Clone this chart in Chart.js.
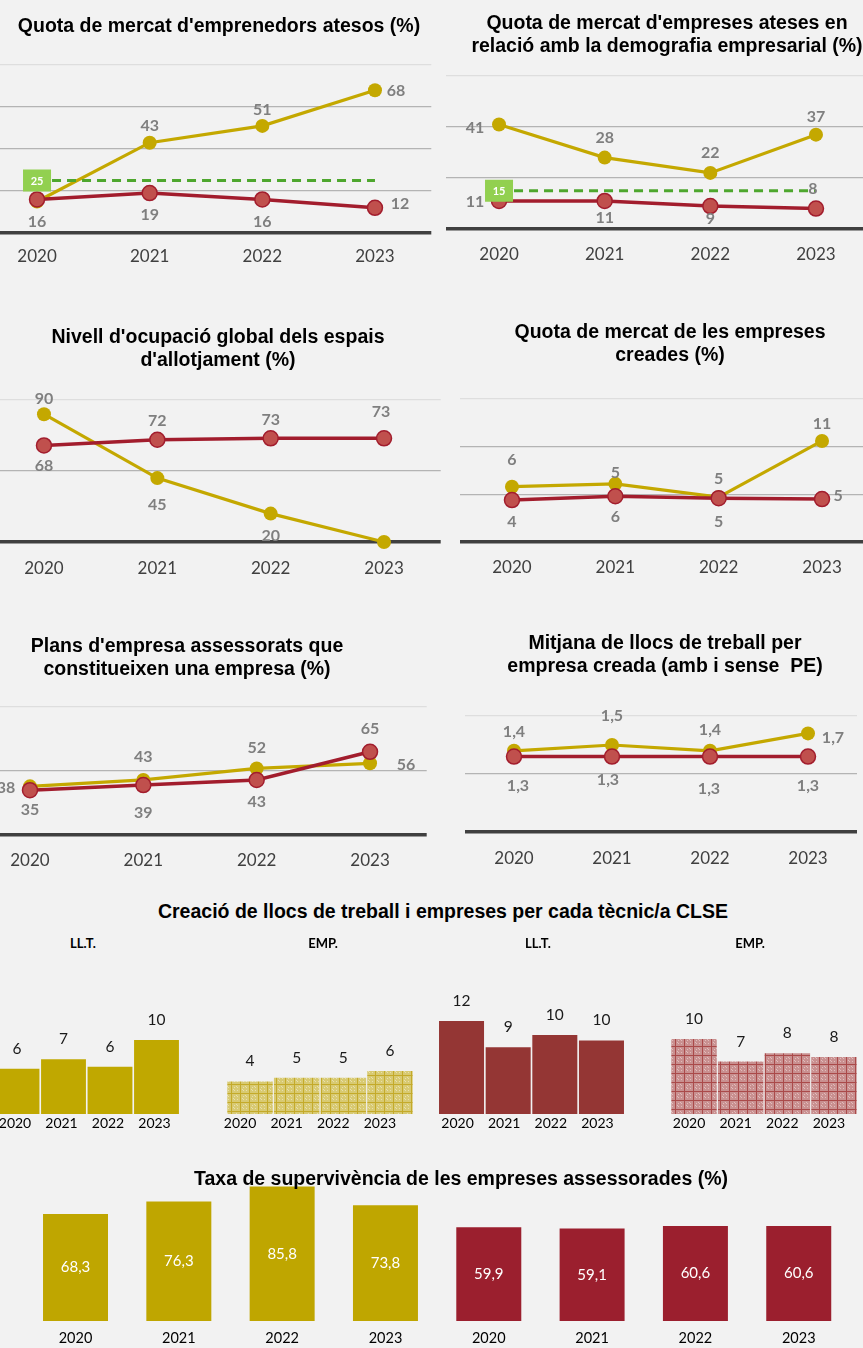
<!DOCTYPE html>
<html><head><meta charset="utf-8">
<script src="https://cdn.jsdelivr.net/npm/chart.js@4.4.1/dist/chart.umd.min.js"></script>
<style>
html,body{margin:0;padding:0;background:#f2f2f2;}
body{width:863px;height:1348px;position:relative;overflow:hidden;font-family:'Liberation Sans',Arial,sans-serif;}
.t{position:absolute;font-weight:bold;font-size:19.5px;line-height:23px;color:#000;text-align:center;white-space:nowrap;transform:translateX(-50%);z-index:5;}
.s{position:absolute;font-family:Lato,sans-serif;font-weight:bold;font-size:13px;color:#000;transform:translate(-50%,-50%);z-index:5;white-space:nowrap;}
canvas{position:absolute;}
</style></head><body>
<div class="t" style="left:219px;top:13.5px">Quota de mercat d'emprenedors atesos (%)</div>
<div class="t" style="left:667px;top:10.5px">Quota de mercat d'empreses ateses en<br>relació amb la demografia empresarial (%)</div>
<div class="t" style="left:218px;top:324.5px">Nivell d'ocupació global dels espais<br>d'allotjament (%)</div>
<div class="t" style="left:670px;top:319.5px">Quota de mercat de les empreses<br>creades (%)</div>
<div class="t" style="left:187px;top:633.5px">Plans d'empresa assessorats que<br>constitueixen una empresa (%)</div>
<div class="t" style="left:665px;top:630.5px">Mitjana de llocs de treball per<br>empresa creada (amb i sense&nbsp; PE)</div>
<div class="t" style="left:443px;top:899.5px">Creació de llocs de treball i empreses per cada tècnic/a CLSE</div>
<div class="s" style="left:83px;top:943px">LL.T.</div>
<div class="s" style="left:323px;top:943px">EMP.</div>
<div class="s" style="left:538px;top:943px">LL.T.</div>
<div class="s" style="left:750px;top:943px">EMP.</div>
<div class="t" style="left:461px;top:1166.5px">Taxa de supervivència de les empreses assessorades (%)</div>
<script>
// ---------- DATA ----------
const years = ['2020', '2021', '2022', '2023'];

const emprenedorsA = [15, 43, 51, 68];
const emprenedorsB = [16, 19, 16, 12];
const emprenedorsTarget = [25, 25, 25, 25];

const empresesA = [41, 28, 22, 37];
const empresesB = [11, 11, 9, 8];
const empresesTarget = [15, 15, 15, 15];

const ocupacioA = [90, 45, 20, 0];
const ocupacioB = [68, 72, 73, 73];

const creadesA = [5.8, 6.1, 4.7, 10.6];
const creadesB = [4.4, 4.8, 4.6, 4.5];
const creadesLabelsA = ['6', '5', '5', '11'];
const creadesLabelsB = ['4', '6', '5', '5'];

const plansA = [38, 43, 52, 56];
const plansB = [35, 39, 43, 65];

const mitjanaA = [1.4, 1.5, 1.4, 1.7];
const mitjanaB = [1.3, 1.3, 1.3, 1.3];

const lltA = [6.1, 7.4, 6.4, 10];
const empA = [4.4, 4.9, 4.9, 5.8];
const lltB = [12, 8.6, 10.2, 9.5];
const empB = [10, 7, 8.1, 7.6];

const survivalA = [68.3, 76.3, 85.8, 73.8];
const survivalB = [59.9, 59.1, 60.6, 60.6];
const survivalYears = years.concat(years);

// ---------- STYLE ----------
Chart.defaults.font.family = 'Lato';
const YEL = '#c4a800', RED = '#a21d2d', REDF = '#c0504d', GRN = '#4ea72e';
const fmt = v => String(v).replace('.', ',');

const labelPlugin = {
  id: 'lbl',
  afterDatasetsDraw(chart) {
    const ctx = chart.ctx;
    chart.data.datasets.forEach((ds, i) => {
      const meta = chart.getDatasetMeta(i);
      if (ds.box) {
        const p = meta.data[0];
        ctx.save();
        ctx.fillStyle = ds.box.color;
        ctx.fillRect(p.x - 14, p.y - 11, 28, 22);
        ctx.fillStyle = '#fff'; ctx.font = 'bold 11px Lato';
        ctx.textAlign = 'center'; ctx.textBaseline = 'middle';
        ctx.fillText(ds.box.text, p.x, p.y + 1);
        ctx.restore();
      }
      if (!ds.lbl) return;
      meta.data.forEach((el, j) => {
        const off = ds.lbl.pos[j];
        if (!off) return;
        const txt = ds.lbl.text ? ds.lbl.text[j] : ds.lbl.fmt(ds.data[j]);
        let y = el.y;
        if (ds.lbl.mode === 'center') y = (el.y + el.base) / 2;
        ctx.save();
        ctx.font = ds.lbl.font; ctx.fillStyle = ds.lbl.color;
        ctx.textAlign = 'center'; ctx.textBaseline = 'middle';
        ctx.fillText(txt, el.x + off[0], y + off[1]);
        ctx.restore();
      });
    });
  }
};

function place(L, R, T, B, axisH) {
  const cv = document.createElement('canvas');
  document.body.appendChild(cv);
  const cl = Math.floor(L) - 40, cr = Math.ceil(R) + 45, ct = Math.floor(T) - 45;
  const W = cr - cl, H = Math.ceil(B) - ct + axisH;
  cv.width = W; cv.height = H;
  cv.style.left = cl + 'px'; cv.style.top = ct + 'px';
  cv.style.width = W + 'px'; cv.style.height = H + 'px';
  return { cv, pad: { left: L - cl, right: cr - R, top: T - ct, bottom: Math.ceil(B) - B } };
}

const LBLFONT = 'bold 16px Lato', LBLCOL = '#7f7f7f';
function yellowDS(data, pos, text) {
  return { data, borderColor: YEL, backgroundColor: YEL, pointBackgroundColor: YEL, pointBorderColor: YEL,
    pointBorderWidth: 0, pointRadius: 7, borderWidth: 3.2, clip: false,
    lbl: { pos, text, fmt, font: LBLFONT, color: LBLCOL } };
}
function redDS(data, pos, text) {
  return { data, borderColor: RED, backgroundColor: REDF, pointBackgroundColor: REDF, pointBorderColor: RED,
    pointBorderWidth: 1.5, pointRadius: 7.5, borderWidth: 3.5, clip: false,
    lbl: { pos, text, fmt, font: LBLFONT, color: LBLCOL } };
}
function targetDS(data, text) {
  return { data, borderColor: GRN, borderDash: [9, 6], borderWidth: 3, pointRadius: 0, clip: false,
    box: { text, color: '#92d050' } };
}

function lineChart(geo, yMax, step, datasets, xPad) {
  const axisH = 40;
  const { cv, pad } = place(geo.L, geo.R, geo.T, geo.B, axisH);
  new Chart(cv, {
    type: 'line',
    data: { labels: years, datasets },
    options: {
      responsive: false, animation: false, devicePixelRatio: 1,
      layout: { padding: pad, autoPadding: false },
      plugins: { legend: { display: false }, tooltip: { enabled: false } },
      scales: {
        x: { offset: true, grid: { display: false, drawTicks: false }, border: { display: false },
          ticks: { padding: xPad, color: '#404040', font: { family: 'Lato', size: 17 }, maxRotation: 0, autoSkip: false },
          afterFit: s => { s.height = axisH; } },
        y: { min: 0, max: yMax, ticks: { display: false, stepSize: step }, border: { display: false },
          grid: { drawTicks: false,
            color: c => c.tick.value === 0 ? '#404040' : (c.tick.value === yMax ? '#dedede' : '#b4b4b4'),
            lineWidth: c => c.tick.value === 0 ? 3.5 : 1.3 },
          afterFit: s => { s.width = 0; } }
      }
    },
    plugins: [labelPlugin]
  });
}

// Chart 1
lineChart({ L: -19.3, R: 431.3, T: 65, B: 233 }, 80, 20, [
  targetDS(emprenedorsTarget, '25'),
  redDS(emprenedorsB, [[0, 22], [0, 22], [0, 22], [25, -4]]),
  yellowDS(emprenedorsA, [null, [0, -17], [0, -16], [21, 1]])
], 13.8);
// Chart 2
lineChart({ L: 446.2, R: 868.8, T: 76, B: 229 }, 60, 20, [
  targetDS(empresesTarget, '15'),
  redDS(empresesB, [[-24, 1], [0, 17], [0, 13], [-3, -20]]),
  yellowDS(empresesA, [[-24, 3], [0, -20], [0, -20], [0, -18]])
], 15.8);
// Chart 3
lineChart({ L: -12.7, R: 440.7, T: 400, B: 542 }, 100, 50, [
  redDS(ocupacioB, [[0, 20], [0, -19], [0, -18], [-3, -26]]),
  yellowDS(ocupacioA, [[0, -15], [0, 27], [0, 22], null])
], 16.8);
// Chart 4
lineChart({ L: 460.3, R: 873.7, T: 399, B: 542 }, 15, 5, [
  redDS(creadesB, [[0, 22], [0, 21], [0, 24], [16, -3]], creadesLabelsB),
  yellowDS(creadesA, [[0, -27], [0, -11], [0, -18], [0, -17]], creadesLabelsA)
], 15.3);
// Chart 5
lineChart({ L: -26.7, R: 426.7, T: 707, B: 835 }, 100, 50, [
  redDS(plansB, [[0, 20], [0, 28], [0, 22], [0, -23]]),
  yellowDS(plansA, [[-24, 1], [0, -23], [0, -21], [36, 2]])
], 15.2);
// Chart 6
lineChart({ L: 465, R: 857, T: 716, B: 832 }, 2, 1, [
  redDS(mitjanaB, [[4, 29], [-4, 23], [-1, 32], [0, 29]]),
  yellowDS(mitjanaA, [[0, -19], [0, -29], [0, -21], [25, 4]])
], 16.2);

// ---------- BAR CHARTS ----------
function makePattern(bg, line, dot) {
  const c = document.createElement('canvas'); c.width = 9; c.height = 9;
  const x = c.getContext('2d');
  x.fillStyle = bg; x.fillRect(0, 0, 9, 9);
  x.fillStyle = line; x.fillRect(0, 0, 9, 1); x.fillRect(0, 0, 1, 9);
  x.fillStyle = dot;
  [[3, 3], [6, 6], [3, 6], [6, 3], [2, 5], [5, 2]].forEach(p => x.fillRect(p[0], p[1], 1, 1));
  return x.createPattern(c, 'repeat');
}

function barChart(geo, yMax, labels, data, color, lbl, xOpts, barPct) {
  const axisH = xOpts.h;
  const { cv, pad } = place(geo.L, geo.R, geo.T, geo.B, axisH);
  new Chart(cv, {
    type: 'bar',
    data: { labels, datasets: [{ data, backgroundColor: color, borderWidth: 0,
      barPercentage: barPct, categoryPercentage: 1, lbl }] },
    options: {
      responsive: false, animation: false, devicePixelRatio: 1,
      layout: { padding: pad, autoPadding: false },
      plugins: { legend: { display: false }, tooltip: { enabled: false } },
      scales: {
        x: { offset: true, grid: { display: false, drawTicks: false }, border: { display: false },
          ticks: { padding: xOpts.pad, labelOffset: xOpts.off, color: '#000', font: { family: 'Lato', size: xOpts.size || 14 }, maxRotation: 0, autoSkip: false },
          afterFit: s => { s.height = axisH; } },
        y: { display: true, min: 0, max: yMax, ticks: { display: false }, grid: { display: false, drawTicks: false }, border: { display: false },
          afterFit: s => { s.width = 0; } }
      }
    },
    plugins: [labelPlugin]
  });
}

const above = [[0, -20], [0, -20], [0, -20], [0, -20]];
const roundFmt = v => String(Math.round(v));
const barLbl = () => ({ pos: above, fmt: roundFmt, font: '15.5px Lato', color: '#1a1a1a' });

barChart({ L: -6.25, R: 179.75, T: 1003, B: 1114 }, 15, years, lltA, '#c0a800', barLbl(), { h: 24, pad: 1, off: -2 }, 0.965);
barChart({ L: 226.7, R: 413.3, T: 1003, B: 1114 }, 15, years, empA,
  makePattern('#d8ca72', '#c4aa2a', '#e8dfae'), barLbl(), { h: 24, pad: 1, off: -10 }, 0.975);
barChart({ L: 438.2, R: 624.8, T: 997.75, B: 1114 }, 15, years, lltB, '#943634', barLbl(), { h: 24, pad: 1, off: -4 }, 0.965);
barChart({ L: 670.7, R: 857.3, T: 1001.5, B: 1114 }, 15, years, empB,
  makePattern('#c99090', '#aa4a4a', '#e2bcbc'), barLbl(), { h: 24, pad: 1, off: -5 }, 0.975);

// Survival chart
const survivalData = survivalA.concat(survivalB);
const survivalColors = survivalA.map(() => '#bfa600').concat(survivalB.map(() => '#9b1f2e'));
barChart({ L: 23.85, R: 850.4, T: 1164.3, B: 1321 }, 100, survivalYears, survivalData, survivalColors,
  { pos: survivalData.map(() => [0, 0]), mode: 'center', fmt: v => v.toFixed(1).replace('.', ','), font: '15px Lato', color: '#ffffff' },
  { h: 30, pad: 8.4, off: 0, size: 14.5 }, 0.629);
</script>
</body></html>
